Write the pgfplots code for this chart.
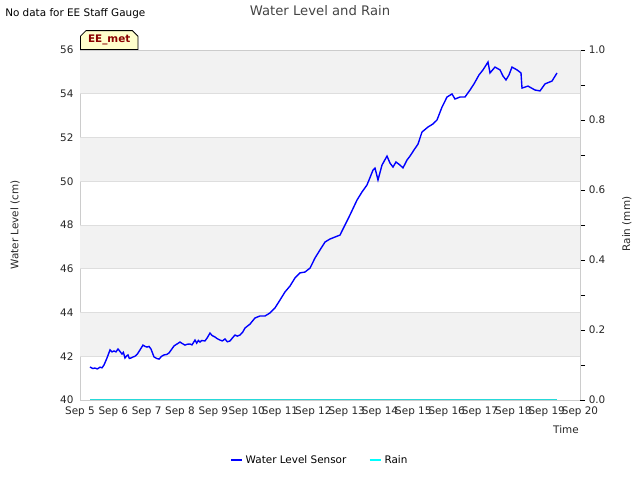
\documentclass[border=0pt]{standalone}
\usepackage{pgfplots}
\pgfplotsset{compat=1.18}
\usepackage{fontspec}
\setmainfont{DejaVu Sans}
\usetikzlibrary{shapes.misc}
\definecolor{band}{RGB}{242,242,242}
\definecolor{gridc}{RGB}{222,222,222}
\definecolor{framec}{RGB}{204,204,204}
\definecolor{titlec}{RGB}{68,68,68}
\definecolor{darkredc}{RGB}{139,0,0}
\definecolor{boxc}{RGB}{255,255,204}
\definecolor{rainc}{RGB}{0,255,255}
\definecolor{wlc}{RGB}{0,0,255}

\begin{document}
\fontsize{7.5pt}{9pt}\selectfont
\begin{tikzpicture}
\path[use as bounding box] (0,0) rectangle (460.8pt,345.6pt);

\begin{axis}[
    name=main,
    at={(57.6pt,57.6pt)}, anchor=south west,
    scale only axis,
    width=360pt, height=252pt,
    xmin=5, xmax=20, ymin=40, ymax=56,
    xtick={5,...,20},
    xticklabels={Sep 5,Sep 6,Sep 7,Sep 8,Sep 9,Sep 10,Sep 11,Sep 12,Sep 13,Sep 14,Sep 15,Sep 16,Sep 17,Sep 18,Sep 19,Sep 20},
    ytick={40,42,...,56},
    major tick length=0pt,
    axis line style={framec},
    axis y line*=left,
    axis x line*=bottom,
    tick label style={font=\fontsize{7.5pt}{9pt}\selectfont, text=black!85},
    /pgf/number format/assume math mode=true,
    xticklabel style={yshift=-2pt},
    yticklabel style={xshift=-2pt},
    legend style={at={(0.48,-0.171)}, anchor=center, draw=none, fill=none,
      legend columns=2, font=\fontsize{7.5pt}{9pt}\selectfont,
      /tikz/every even column/.append style={column sep=14pt}},
    legend image code/.code={\draw[#1, line width=1.5pt] (0pt,0pt) -- (8pt,0pt);},
]
\fill[band] (axis cs:5,42) rectangle (axis cs:20,44);
\fill[band] (axis cs:5,46) rectangle (axis cs:20,48);
\fill[band] (axis cs:5,50) rectangle (axis cs:20,52);
\fill[band] (axis cs:5,54) rectangle (axis cs:20,56);
\draw[gridc, line width=0.7pt] (axis cs:5,42) -- (axis cs:20,42);
\draw[gridc, line width=0.7pt] (axis cs:5,44) -- (axis cs:20,44);
\draw[gridc, line width=0.7pt] (axis cs:5,46) -- (axis cs:20,46);
\draw[gridc, line width=0.7pt] (axis cs:5,48) -- (axis cs:20,48);
\draw[gridc, line width=0.7pt] (axis cs:5,50) -- (axis cs:20,50);
\draw[gridc, line width=0.7pt] (axis cs:5,52) -- (axis cs:20,52);
\draw[gridc, line width=0.7pt] (axis cs:5,54) -- (axis cs:20,54);
\draw[framec] (axis cs:5,56) -- (axis cs:20,56);
\addplot[wlc, line width=1pt, mark=none] coordinates {
(5.30,41.51) (5.38,41.44) (5.45,41.46) (5.52,41.42) (5.60,41.50) (5.66,41.47) (5.72,41.60) (5.81,41.92) (5.90,42.29)
(5.96,42.20) (6.02,42.24) (6.08,42.20) (6.14,42.33) (6.20,42.22) (6.26,42.10) (6.30,42.18) (6.35,41.92) (6.40,42.02) (6.44,42.06) (6.48,41.90) (6.53,41.92)
(6.58,41.96) (6.65,42.00) (6.72,42.10) (6.80,42.29) (6.89,42.51) (6.95,42.45) (7.01,42.42) (7.07,42.45) (7.13,42.33) (7.22,41.97)
(7.30,41.90) (7.37,41.87) (7.45,42.00) (7.52,42.06) (7.60,42.08) (7.67,42.15) (7.82,42.47) (7.90,42.55) (8.00,42.65) (8.07,42.58) (8.15,42.51)
(8.22,42.55) (8.30,42.56) (8.36,42.52) (8.45,42.74) (8.50,42.60) (8.55,42.72) (8.60,42.65) (8.65,42.72) (8.75,42.70) (8.82,42.85) (8.90,43.06) (8.96,42.95) (9.05,42.88)
(9.12,42.80) (9.20,42.74) (9.27,42.70) (9.35,42.79) (9.42,42.66) (9.50,42.70) (9.58,42.85) (9.65,42.97) (9.72,42.92) (9.80,42.97) (9.88,43.10) (9.95,43.29)
(10.10,43.47) (10.25,43.75) (10.40,43.84) (10.55,43.84) (10.70,43.98) (10.85,44.21)
(11.00,44.57) (11.15,44.94) (11.30,45.21) (11.45,45.58) (11.60,45.81) (11.75,45.85)
(11.90,46.03) (12.05,46.49) (12.20,46.86) (12.35,47.22) (12.50,47.36) (12.65,47.45)
(12.80,47.54) (12.95,48.00) (13.10,48.46) (13.31,49.14) (13.46,49.51) (13.61,49.83)
(13.79,50.51) (13.85,50.60) (13.94,50.06) (14.06,50.74) (14.21,51.15) (14.30,50.83)
(14.39,50.65) (14.48,50.88) (14.60,50.74) (14.69,50.61) (14.81,50.97) (14.90,51.15)
(15.02,51.43) (15.14,51.70) (15.26,52.25) (15.44,52.48) (15.59,52.62) (15.71,52.80)
(15.86,53.39) (16.01,53.85) (16.16,53.99) (16.25,53.76) (16.40,53.85) (16.55,53.85)
(16.70,54.17) (16.82,54.45) (16.97,54.86) (17.09,55.09) (17.24,55.45) (17.30,54.95)
(17.45,55.22) (17.60,55.09) (17.69,54.81) (17.78,54.63) (17.87,54.86) (17.96,55.22)
(18.11,55.09) (18.23,54.95) (18.26,54.26) (18.44,54.35) (18.65,54.17) (18.80,54.13)
(18.95,54.45) (19.16,54.58) (19.31,54.95)
};
\addlegendentry{Water Level Sensor}
\addlegendimage{rainc}
\addlegendentry{Rain}
\end{axis}

\begin{axis}[
    at={(57.6pt,57.6pt)}, anchor=south west,
    scale only axis,
    width=360pt, height=252pt,
    xmin=5, xmax=20, ymin=0, ymax=1,
    axis x line=none,
    axis y line*=right,
    axis line style={framec},
    ytick={0,0.2,...,1.0},
    minor ytick={0.1,0.3,0.5,0.7,0.9},
    tick align=outside,
    major tick length=3.6pt, minor tick length=3.6pt,
    every tick/.style={black, line width=0.6pt},
    yticklabel style={/pgf/number format/fixed, /pgf/number format/fixed zerofill,
      /pgf/number format/precision=1, font=\fontsize{7.5pt}{9pt}\selectfont, text=black!85},
    /pgf/number format/assume math mode=true,
]
\addplot[rainc!70!gray, line width=0.9pt, mark=none] coordinates {(5.30,0) (19.31,0)};
\end{axis}

\node[chamfered rectangle, chamfered rectangle corners={north west,north east},
  chamfered rectangle xsep=2pt, chamfered rectangle ysep=2pt, draw=black, fill=boxc, line width=0.6pt,
  inner xsep=3.5pt, inner ysep=1.2pt, anchor=south west,
  font=\bfseries\fontsize{7.5pt}{9pt}\selectfont, text=darkredc]
  at (main.north west) {EE\_met};
\node[text=titlec, font=\fontsize{9.5pt}{11pt}\selectfont] at (230.4pt,337.7pt) {Water Level and Rain};
\node[anchor=west, inner sep=0pt] at (3.6pt,335.5pt) {No data for EE Staff Gauge};
\node[rotate=90, text=black!85] at (10.8pt,183.6pt) {Water Level (cm)};
\node[rotate=90, text=black!85] at (451.4pt,184.3pt) {Rain (mm)};
\node[text=black!85] at (407.5pt,36pt) {Time};
\end{tikzpicture}
\end{document}
